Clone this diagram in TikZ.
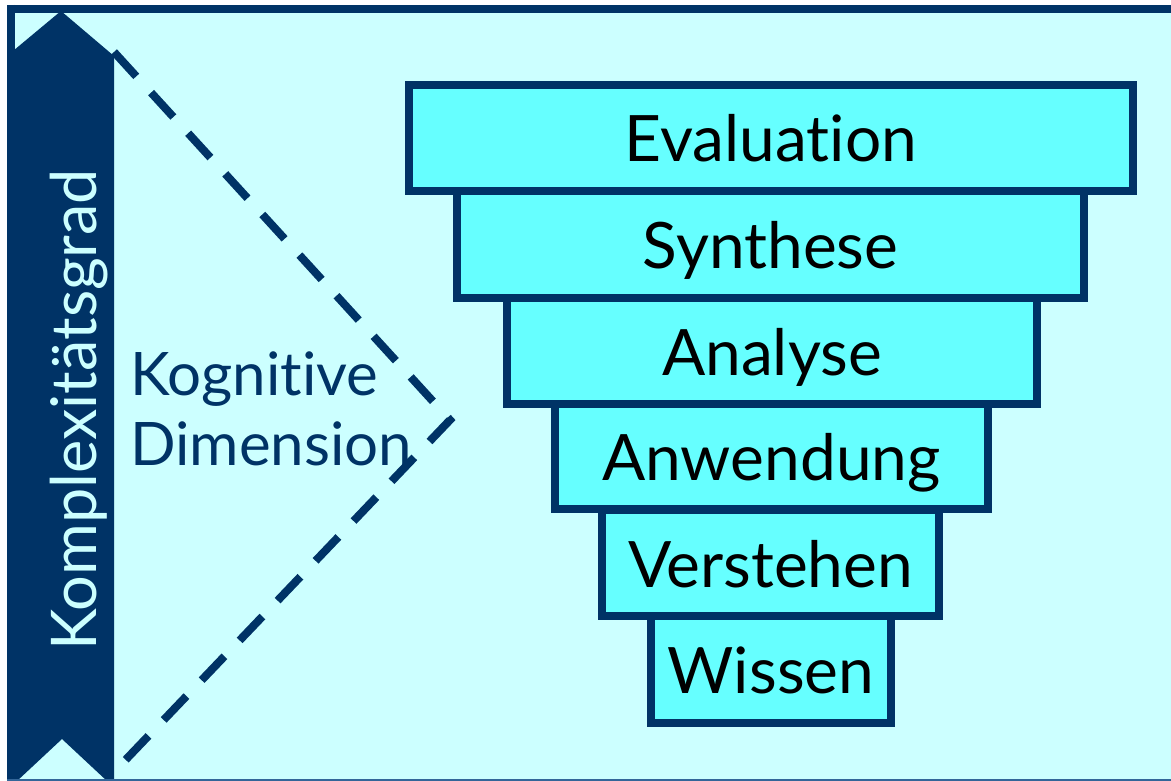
\documentclass[tikz,border=0pt]{standalone}
\usepackage{fontspec}
\setmainfont{Lato}[Ligatures=NoCommon,RawFeature={-liga;-dlig}]
\definecolor{navy}{HTML}{003366}
\definecolor{bgcyan}{HTML}{CCFFFF}
\definecolor{boxcyan}{HTML}{66FFFF}
\definecolor{edgeblue}{HTML}{336699}
\begin{document}
\begin{tikzpicture}[x=1pt,y=-1pt,
  level/.style={draw=navy, line width=8pt, fill=boxcyan, inner sep=0pt,
    text=black, font=\fontsize{64}{64}\selectfont, text height=48pt, text depth=0pt},
  sidetext/.style={text=navy, font=\fontsize{60}{70}\selectfont, inner sep=0pt, anchor=base west},
  dashline/.style={draw=navy, line width=8pt, dash pattern=on 33pt off 22pt}]
\useasboundingbox (0,0) rectangle (1171,781);
\fill[white] (0,0) rectangle (1171,781);
\fill[bgcyan] (7,5) rectangle (1171,781);
% levels
\node[level, minimum width=724pt, minimum height=106pt] (eval) at (771,138) {Evaluation};
\node[level, minimum width=627pt, minimum height=107pt] (synth) at (770.5,244.5) {Synthese};
\node[level, minimum width=530pt, minimum height=106pt] (anal) at (772,351) {Analyse};
\node[level, minimum width=433pt, minimum height=105pt] (anw) at (771.5,456.5) {Anwendung};
\node[level, minimum width=337pt, minimum height=106pt] (verst) at (770.5,563) {Verstehen};
\node[level, minimum width=240pt, minimum height=107pt] (wiss) at (771,669.5) {Wissen};
% dashed triangle
\coordinate (dtop) at (114,52);
\coordinate (dtip) at (450,420);
\coordinate (dbot) at (114,772);
\draw[dashline] (dtop) -- (dtip) -- (dbot);
% arrow band
\fill[navy] (7,56) -- (61,11) -- (114,56) -- (114,781) -- (107,781) -- (62,739) -- (17,781) -- (7,781) -- cycle;
% frame
\draw[navy, line width=8pt] (11,5) -- (11,781);
\draw[navy, line width=8pt] (7,9) -- (1171,9);
\draw[edgeblue, line width=2pt] (7,780) -- (1171,780);
% texts
\node[text=bgcyan, font=\fontsize{63}{63}\selectfont, inner sep=0pt, anchor=base, rotate=90] (kg) at (96,410) {Komplexitätsgrad};
\node[sidetext] (kog) at (130,395) {Kognitive};
\node[sidetext] (dim) at (130,465) {Dimension};
\end{tikzpicture}
\end{document}
